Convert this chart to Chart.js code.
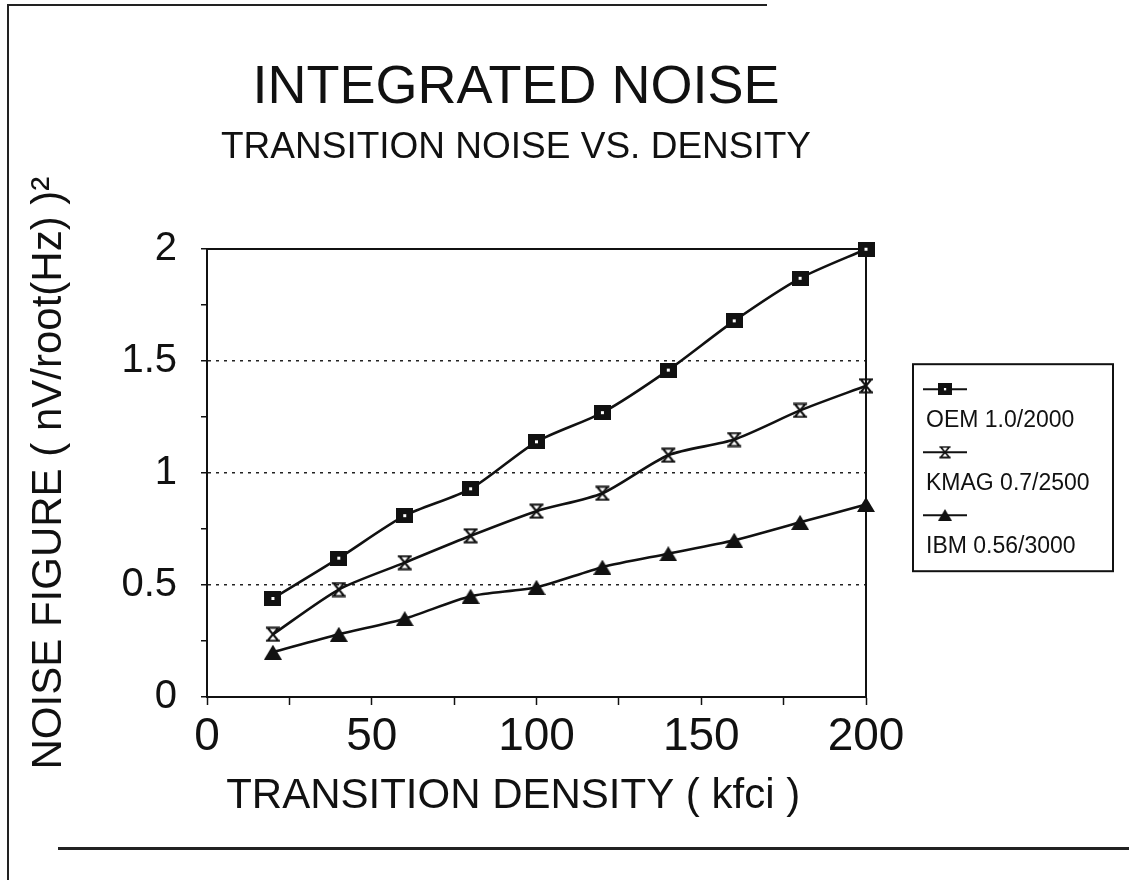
<!DOCTYPE html>
<html>
<head>
<meta charset="utf-8">
<title>Integrated noise</title>
<script src="https://cdn.jsdelivr.net/npm/chart.js@4.4.1/dist/chart.umd.min.js"></script>
<style>
  html, body { margin: 0; padding: 0; background: #fff; }
  #wrap { position: relative; width: 1129px; height: 880px; overflow: hidden; }
  .rule { position: absolute; background: #222; }
</style>
</head>
<body>
<div id="wrap">
  <canvas id="noise" width="1129" height="880"></canvas>
  <div class="rule" style="left:7px; top:4px; width:2px; height:876px"></div>
  <div class="rule" style="left:7px; top:4px; width:760px; height:2px"></div>
  <div class="rule" style="left:58px; top:847px; width:1071px; height:3px"></div>
</div>
<script>
const density = [20, 40, 60, 80, 100, 120, 140, 160, 180, 200]
const oem = [0.44, 0.62, 0.81, 0.93, 1.14, 1.27, 1.46, 1.68, 1.87, 2.00]
const kmag = [0.28, 0.48, 0.60, 0.72, 0.83, 0.91, 1.08, 1.15, 1.28, 1.39]
const ibm = [0.20, 0.28, 0.35, 0.45, 0.49, 0.58, 0.64, 0.70, 0.78, 0.86]
const seriesNames = ['OEM 1.0/2000', 'KMAG 0.7/2500', 'IBM 0.56/3000']

const ink = '#111'
const narrow = "'Liberation Sans Narrow', 'Arial Narrow', 'Liberation Sans', sans-serif"
const plain = "'Liberation Sans', Arial, sans-serif"

// small canvases used as point styles
const glyph = (w, h, draw) => {
    const c = document.createElement('canvas')
    c.width = w
    c.height = h
    const g = c.getContext('2d')
    g.fillStyle = ink
    g.strokeStyle = ink
    draw(g)
    return c
}

const squareMark = glyph(17, 15, g => {
    g.fillRect(0, 0, 17, 15)
    g.fillStyle = '#fff'
    g.fillRect(7, 6, 3, 3)
})

const barCrossMark = glyph(18, 16, g => {
    g.lineWidth = 2
    g.beginPath()
    g.moveTo(2, 1.5); g.lineTo(16, 1.5)
    g.moveTo(2, 14.5); g.lineTo(16, 14.5)
    g.moveTo(4, 2); g.lineTo(14, 14)
    g.moveTo(14, 2); g.lineTo(4, 14)
    g.stroke()
})

const triangleMark = glyph(18, 15, g => {
    g.beginPath()
    g.moveTo(9, 0)
    g.lineTo(18, 15)
    g.lineTo(0, 15)
    g.closePath()
    g.fill()
})

const xy = ys => density.map((x, i) => ({ x, y: ys[i] }))

const series = (label, ys, mark) => ({
    label,
    data: xy(ys),
    borderColor: ink,
    backgroundColor: ink,
    borderWidth: 2.6,
    pointStyle: mark,
    pointRadius: 8,
    tension: 0.25,
    fill: false,
    clip: false
})

// legend with the marker on its own line above each name
const stackedLegend = {
    id: 'stackedLegend',
    afterDraw(chart) {
        const { ctx, chartArea } = chart
        const left = chartArea.right + 47
        const top = chartArea.top + 115
        ctx.save()
        ctx.strokeStyle = ink
        ctx.lineWidth = 2
        ctx.strokeRect(left, top, 200, 207)
        ctx.font = `23px ${plain}`
        ctx.fillStyle = ink
        ctx.textBaseline = 'middle'
        chart.data.datasets.forEach((ds, i) => {
            const my = top + 25 + i * 63
            ctx.beginPath()
            ctx.moveTo(left + 10, my)
            ctx.lineTo(left + 54, my)
            ctx.stroke()
            const img = ds.pointStyle
            const w = img.width * 0.8, h = img.height * 0.8
            ctx.drawImage(img, left + 32 - w / 2, my - h / 2, w, h)
            ctx.fillText(ds.label, left + 13, my + 31)
        })
        ctx.restore()
    }
}

new Chart(document.getElementById('noise').getContext('2d'), {
    type: 'line',
    data: {
        datasets: [
            series(seriesNames[0], oem, squareMark),
            series(seriesNames[1], kmag, barCrossMark),
            series(seriesNames[2], ibm, triangleMark)
        ]
    },
    options: {
        responsive: false,
        animation: false,
        devicePixelRatio: 1,
        layout: { padding: { left: 0, right: 97, top: 0, bottom: 0 } },
        plugins: {
            legend: { display: false },
            tooltip: { enabled: false },
            title: {
                display: true,
                text: 'INTEGRATED NOISE',
                color: ink,
                font: { family: narrow, size: 54, weight: 'normal' },
                padding: { top: 56, bottom: 0 }
            },
            subtitle: {
                display: true,
                text: 'TRANSITION NOISE VS. DENSITY',
                color: ink,
                font: { family: narrow, size: 37, weight: 'normal' },
                padding: { top: 5, bottom: 0 }
            }
        },
        scales: {
            x: {
                type: 'linear',
                min: 0,
                max: 200,
                afterFit: s => { s.height = 183 },
                ticks: {
                    stepSize: 25,
                    autoSkip: false,
                    maxRotation: 0,
                    padding: 5,
                    color: ink,
                    font: { family: narrow, size: 46 },
                    callback: v => v % 50 === 0 ? String(v) : ''
                },
                grid: { drawOnChartArea: false, tickLength: 8, tickColor: ink, tickWidth: 1.5 },
                border: { color: ink, width: 2 },
                title: {
                    display: true,
                    // trailing spaces nudge the centred title a little to the left
                    text: 'TRANSITION DENSITY ( kfci )    ',
                    color: ink,
                    font: { family: narrow, size: 42 },
                    padding: { top: 0, bottom: 58 }
                }
            },
            xTop: {
                type: 'linear',
                position: 'top',
                min: 0,
                max: 200,
                afterFit: s => { s.height = 79 },
                ticks: { display: false },
                grid: { display: false },
                border: { color: ink, width: 2 }
            },
            y: {
                min: 0,
                max: 2,
                afterFit: s => { s.width = 207 },
                ticks: {
                    stepSize: 0.25,
                    autoSkip: false,
                    padding: 24,
                    color: ink,
                    font: { family: plain, size: 40 },
                    callback: v => v % 0.5 === 0 ? String(v) : ''
                },
                grid: {
                    color: c => (c.tick && c.tick.value % 0.5 === 0 && c.tick.value > 0 && c.tick.value < 2) ? '#222' : 'rgba(0,0,0,0)',
                    lineWidth: 1.5,
                    tickColor: ink,
                    tickBorderDash: [],
                    tickLength: 6,
                    tickWidth: 1.5
                },
                // dotted grid lines come from border.dash in v4
                border: { color: ink, width: 2, dash: [3, 5] },
                title: {
                    display: true,
                    text: 'NOISE FIGURE ( nV/root(Hz) )\u00b2',
                    color: ink,
                    font: { family: plain, size: 42 },
                    padding: { top: 24, bottom: 0 }
                }
            },
            yRight: {
                position: 'right',
                min: 0,
                max: 2,
                afterFit: s => { s.width = 166 },
                ticks: { display: false },
                grid: { display: false },
                border: { color: ink, width: 2 }
            }
        }
    },
    plugins: [stackedLegend]
})
</script>
</body>
</html>
